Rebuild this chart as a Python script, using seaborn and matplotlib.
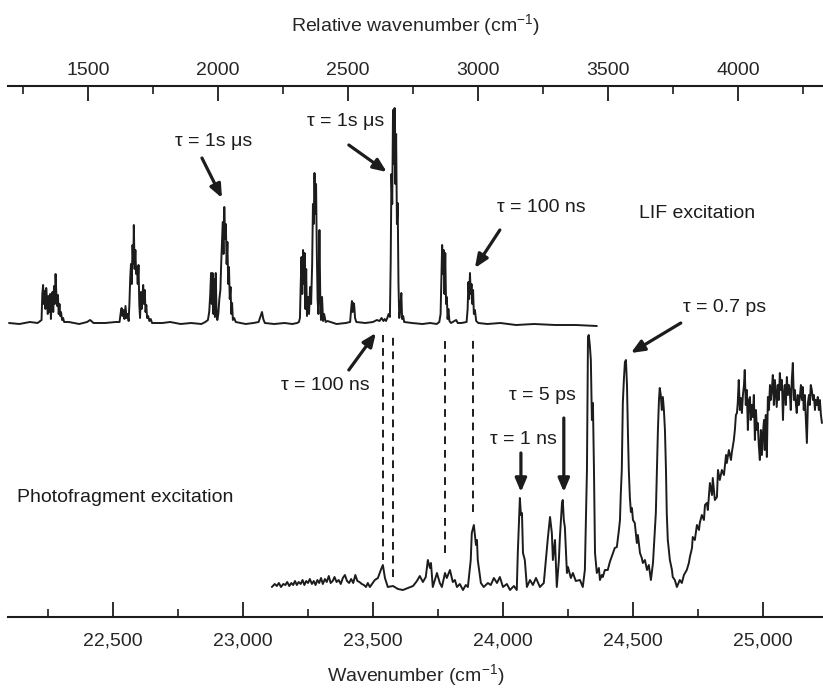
import numpy as np
import pandas as pd
import matplotlib
matplotlib.use("Agg")
import matplotlib.pyplot as plt
from matplotlib.ticker import MultipleLocator, FuncFormatter, FixedLocator
import seaborn as sns

# ---------------- data ----------------
lif_wavenumber = [22100, 22140, 22180, 22210, 22220,
                  22225, 22228, 22231, 22234, 22237, 22240, 22243, 22246, 22249, 22252, 22255, 22258,
                  22261, 22264, 22267, 22270, 22273, 22276, 22279, 22282, 22285, 22288, 22291, 22294,
                  22297, 22300, 22304, 22308, 22312,
                  22330, 22370, 22400, 22412, 22425, 22470, 22510,
                  22525, 22530, 22533, 22536, 22540, 22544, 22548, 22552, 22556, 22560, 22563, 22566,
                  22569, 22572, 22575, 22578, 22580, 22583, 22586, 22589, 22592, 22595, 22598, 22601,
                  22604, 22607, 22610, 22613, 22616, 22619, 22622, 22625, 22628, 22631, 22635, 22640,
                  22645, 22650,
                  22690, 22720, 22760, 22800, 22840, 22855,
                  22865, 22870, 22874, 22877, 22880, 22883, 22886, 22889, 22892, 22895, 22898, 22901,
                  22905, 22909, 22913, 22916, 22919, 22922, 22925, 22928, 22931, 22934, 22937, 22940,
                  22943, 22946, 22949, 22952, 22955, 22958, 22961, 22966, 22972,
                  23010, 23040, 23060, 23068, 23073, 23078, 23084, 23120, 23160, 23190, 23208,
                  23215, 23219, 23222, 23225, 23228, 23231, 23234, 23237, 23240, 23243, 23246, 23250,
                  23254, 23258, 23262, 23266, 23269, 23272, 23275, 23278, 23281, 23284, 23287, 23290,
                  23294, 23297, 23300, 23304, 23308, 23312, 23318, 23325,
                  23360, 23395,
                  23412, 23416, 23419, 23422, 23425, 23428, 23431, 23436,
                  23470, 23500, 23515, 23525, 23533,
                  23540, 23545, 23550, 23555, 23560, 23565, 23568, 23571, 23574, 23577, 23580, 23583,
                  23586, 23589, 23592, 23595, 23598, 23601, 23605, 23609, 23612, 23616, 23620,
                  23650, 23690, 23720, 23745,
                  23755, 23760, 23763, 23766, 23769, 23772, 23775, 23778, 23781, 23784, 23787, 23790,
                  23794, 23800,
                  23820, 23826, 23840,
                  23860, 23864, 23867, 23870, 23873, 23876, 23879, 23882, 23885, 23888, 23892, 23897,
                  23905,
                  23940, 23990, 24050, 24120, 24200, 24280, 24361]
lif_intensity = [1, 0, 2, 1, 3,
                 4, 30, 39, 20, 33, 15, 36, 25, 10, 28, 12, 30,
                 5, 22, 32, 12, 38, 20, 50, 30, 18, 29, 10, 20,
                 8, 12, 4, 6, 2,
                 2, 0, 2, 4, 1, 1, 2,
                 2, 12, 16, 8, 14, 5, 18, 6, 10, 3, 20, 45,
                 60, 40, 79, 60, 99, 55, 74, 50, 57, 40, 59, 20,
                 6, 32, 15, 28, 39, 20, 34, 12, 19, 6, 8, 3,
                 5, 1,
                 1, 2, 0, 1, 0, 2,
                 4, 12, 30, 51, 20, 51, 10, 45, 7, 51, 15, 4,
                 10, 25, 34, 60, 80, 102, 70, 117, 85, 100, 60, 82,
                 40, 57, 25, 37, 10, 21, 4, 6, 2,
                 0, 1, 2, 8, 12, 5, 1, 0, 1, 0, 1,
                 2, 6, 40, 67, 30, 74, 40, 71, 15, 55, 8, 27,
                 10, 37, 20, 60, 120, 100, 151, 110, 140, 70, 24, 10,
                 94, 30, 4, 27, 3, 10, 2, 3,
                 0, 1,
                 2, 15, 23, 12, 21, 18, 6, 2,
                 1, 2, 4, 3, 6,
                 3, 5, 3, 6, 10, 7, 60, 150, 120, 214, 160, 216,
                 140, 190, 100, 121, 40, 6, 15, 31, 5, 8, 2,
                 1, 0, 1, 0,
                 2, 10, 45, 79, 50, 74, 30, 71, 20, 27, 5, 15,
                 3, 1,
                 4, 1, 1,
                 2, 15, 42, 25, 51, 30, 40, 20, 34, 10, 14, 3,
                 1,
                 0, 1, -1, 0, -1, -1, -2]

pf_wavenumber = [23111, 23122, 23130, 23138, 23146, 23155, 23163, 23170, 23178, 23186, 23193, 23200,
                 23207, 23214, 23222, 23229, 23236, 23243, 23250, 23257, 23265, 23272, 23279, 23286,
                 23293, 23300, 23307, 23315, 23322, 23330, 23337, 23345, 23352, 23360, 23368, 23376,
                 23384, 23392, 23400, 23408, 23416, 23424, 23432, 23440, 23448, 23457, 23465, 23473,
                 23480, 23488, 23507, 23519,
                 23530, 23538, 23546, 23557, 23577, 23596, 23615, 23634, 23654, 23669, 23680, 23692,
                 23703, 23711, 23719, 23723, 23730, 23738, 23746, 23757, 23765, 23777, 23784, 23796,
                 23807, 23815, 23823, 23834, 23846, 23857, 23865, 23876, 23880, 23888, 23896, 23900,
                 23903, 23911, 23915, 23926, 23942, 23953, 23965, 23977, 23988, 24000, 24015, 24027,
                 24042, 24053, 24057, 24065, 24069, 24073, 24077, 24084, 24092, 24104, 24115, 24127,
                 24142, 24157, 24173, 24181, 24188, 24192, 24200, 24207, 24215, 24219, 24227, 24230,
                 24234, 24238, 24246, 24250, 24261, 24269, 24280, 24296, 24307, 24315, 24323, 24327,
                 24330, 24334, 24338, 24342, 24346, 24350, 24354, 24361, 24369, 24373, 24380, 24384,
                 24392, 24403, 24411, 24423, 24430, 24438, 24446, 24450, 24453, 24457, 24461, 24465,
                 24469, 24473, 24477, 24481, 24484, 24488, 24492, 24496, 24500, 24507, 24515, 24519,
                 24527, 24534, 24538, 24546, 24554, 24561, 24569, 24577, 24584, 24588, 24592, 24596,
                 24600, 24603, 24607, 24611, 24615, 24619, 24623, 24627, 24630, 24634, 24642, 24650,
                 24653, 24661, 24669, 24677, 24680, 24688, 24696, 24707, 24715, 24719, 24727, 24730,
                 24738, 24746, 24754, 24757, 24765, 24773, 24777, 24784, 24788, 24796, 24804, 24807,
                 24815, 24823, 24827, 24834, 24842, 24850, 24858, 24861, 24869, 24877, 24880, 24888,
                 24892, 24896, 24900, 24903, 24907, 24911, 24915, 24919, 24923, 24927, 24930, 24934,
                 24938, 24942, 24946, 24950, 24953, 24957, 24961, 24965, 24969, 24973, 24977, 24980,
                 24984, 24988, 24992, 24996, 25000, 25004, 25007, 25011, 25015, 25019, 25023, 25027,
                 25030, 25034, 25038, 25042, 25046, 25050, 25053, 25057, 25061, 25065, 25069, 25073,
                 25077, 25080, 25084, 25088, 25092, 25096, 25100, 25103, 25107, 25111, 25115, 25119,
                 25123, 25127, 25130, 25134, 25138, 25142, 25146, 25150, 25153, 25157, 25161, 25165,
                 25169, 25173, 25177, 25180, 25184, 25188, 25192, 25196, 25200, 25203, 25207, 25211,
                 25215, 25219, 25223, 25227]
pf_intensity = [0, 3, 1, 4, 0, 3, 2, 5, 1, 4, 2, 6,
                2, 5, 3, 7, 2, 6, 4, 8, 3, 6, 2, 7,
                4, 9, 3, 8, 5, 11, 4, 6, 10, 5, 7, 3,
                9, 12, 6, 4, 8, 4, 12, 6, 5, 3, 2, 0,
                4, 0, 7, 9,
                17, 22, 9, 0, 1, -2, -3, -1, 1, 6, 11, 5,
                10, 27, 19, 24, 0, 7, 14, 4, 0, 14, 9, 17,
                5, 7, 0, 3, -3, 2, 0, 27, 54, 62, 42, 47,
                27, 12, 4, 0, 4, 2, 9, 4, 10, 0, 3, -3,
                1, -3, 34, 89, 72, 74, 34, 27, 0, 7, 2, 9,
                0, 4, 50, 70, 54, 27, 47, 0, 27, 50, 84, 87,
                67, 60, 14, 20, 9, 14, 6, 7, 0, 17, 117, 250,
                252, 242, 227, 167, 184, 117, 34, 14, 19, 7, 12, 10,
                17, 17, 25, 34, 39, 40, 57, 67, 92, 117, 184, 207,
                225, 227, 202, 150, 117, 90, 75, 79, 67, 64, 44, 52,
                34, 29, 24, 27, 17, 22, 7, 24, 57, 74, 117, 157,
                187, 199, 192, 177, 190, 177, 157, 117, 74, 47, 27, 17,
                10, 7, 0, 5, 7, 4, 12, 17, 24, 30, 39, 50,
                47, 62, 57, 64, 72, 67, 82, 84, 77, 104, 92, 109,
                87, 90, 117, 107, 117, 112, 132, 124, 137, 127, 134, 147,
                157, 172, 174, 184, 207, 177, 189, 174, 192, 202, 217, 182,
                197, 157, 187, 190, 167, 182, 170, 192, 147, 177, 157, 164,
                142, 127, 157, 132, 154, 167, 137, 172, 130, 190, 177, 202,
                187, 197, 212, 182, 207, 192, 180, 202, 187, 214, 197, 207,
                167, 192, 202, 182, 210, 192, 202, 197, 177, 207, 224, 187,
                197, 182, 174, 192, 182, 190, 202, 187, 200, 177, 192, 167,
                144, 184, 192, 182, 202, 197, 187, 192, 177, 187, 182, 190,
                177, 187, 172, 164]

dashed_positions = [23538, 23577, 23777, 23884]
dashed_top = [282, 282, 277, 282]
dashed_bottom = [57, 40, 64, 105]

bottom_ticks = [22500, 23000, 23500, 24000, 24500, 25000]
top_ticks = [1500, 2000, 2500, 3000, 3500, 4000]
origin_offset = 20904          # relative wavenumber = wavenumber - origin_offset
lif_offset = 293
pf_offset = 30

# ---------------- styling ----------------
sns.set_style("white")
plt.rcParams['font.family'] = ['Liberation Sans', 'DejaVu Sans']
plt.rcParams['mathtext.fontset'] = 'custom'
plt.rcParams['mathtext.rm'] = 'Liberation Sans'
plt.rcParams['mathtext.it'] = 'Liberation Sans:italic'
ink = '#1c1c1c'
fs = 14

fig = plt.figure(figsize=(8.23, 6.93), dpi=100)
ax = fig.add_axes([8 / 823, 76 / 693, 815 / 823, 531 / 693])

lif_df = pd.DataFrame({'wavenumber': lif_wavenumber,
                       'signal': np.array(lif_intensity) + lif_offset})
pf_df = pd.DataFrame({'wavenumber': pf_wavenumber,
                      'signal': np.array(pf_intensity) + pf_offset})
sns.lineplot(data=lif_df, x='wavenumber', y='signal', ax=ax, color=ink, lw=1.4,
             estimator=None, sort=False)
sns.lineplot(data=pf_df, x='wavenumber', y='signal', ax=ax, color=ink, lw=1.4,
             estimator=None, sort=False)

for xp, yt, yb in zip(dashed_positions, dashed_top, dashed_bottom):
    ax.plot([xp, xp], [yb, yt], color=ink, lw=1.4, dashes=(4, 3))

ax.set_xlim(22096, 25231)
ax.set_ylim(0, 531)
ax.set_yticks([])
ax.set_ylabel('')
for s in ['left', 'right', 'top']:
    ax.spines[s].set_visible(False)
ax.spines['bottom'].set_linewidth(1.5)
ax.spines['bottom'].set_color(ink)

ax.xaxis.set_major_locator(FixedLocator(bottom_ticks))
ax.xaxis.set_minor_locator(MultipleLocator(250))
ax.xaxis.set_major_formatter(FuncFormatter(lambda v, p: f"{int(round(v)):,}"))
ax.tick_params(axis='x', which='major', direction='in', length=11, width=1.3,
               color=ink, labelsize=fs, pad=11, bottom=True, top=False)
ax.tick_params(axis='x', which='minor', direction='in', length=6, width=1.2,
               color=ink, bottom=True, top=False)
ax.set_xlabel("Wavenumber (cm$^{-1}$)", fontsize=fs, labelpad=9)

sec = ax.secondary_xaxis('top', functions=(lambda w: w - origin_offset,
                                           lambda r: r + origin_offset))
sec.xaxis.set_major_locator(FixedLocator(top_ticks))
sec.xaxis.set_minor_locator(MultipleLocator(250))
sec.tick_params(axis='x', which='major', direction='in', length=11, width=1.3,
                color=ink, labelsize=fs, pad=5)
sec.tick_params(axis='x', which='minor', direction='in', length=6, width=1.2, color=ink)
sec.spines['top'].set_linewidth(1.5)
sec.spines['top'].set_color(ink)
sec.set_xlabel("Relative wavenumber (cm$^{-1}$)", fontsize=fs, labelpad=22)

# ---------------- annotations ----------------
arrow_kw = dict(arrowstyle='-|>,head_length=0.8,head_width=0.34', lw=2.3,
                color=ink, shrinkA=0, shrinkB=0)

def label(text, pos, ha='center'):
    ax.text(pos[0], pos[1], text, ha=ha, va='center', fontsize=fs, color=ink)

def arrow(tail, tip):
    ax.annotate('', xy=tip, xytext=tail, arrowprops=arrow_kw)

label("τ = 1s μs", (22888, 475))
arrow((22842, 459), (22919, 419))
label("τ = 1s μs", (23396, 495))
arrow((23407, 472), (23553, 445))
label("τ = 100 ns", (24146, 409))
arrow((23988, 387), (23892, 349))
label("LIF excitation", (24746, 403))
label("τ = 0.7 ps", (24854, 310))
arrow((24684, 294), (24492, 264))
label("τ = 100 ns", (23315, 231))
arrow((23407, 247), (23511, 284))
label("τ = 5 ps", (24150, 222))
arrow((24234, 199), (24234, 125))
label("τ = 1 ns", (24077, 177))
arrow((24069, 164), (24069, 125))
label("Photofragment excitation", (22131, 120), ha='left')

fig.savefig("out.png", dpi=100)
